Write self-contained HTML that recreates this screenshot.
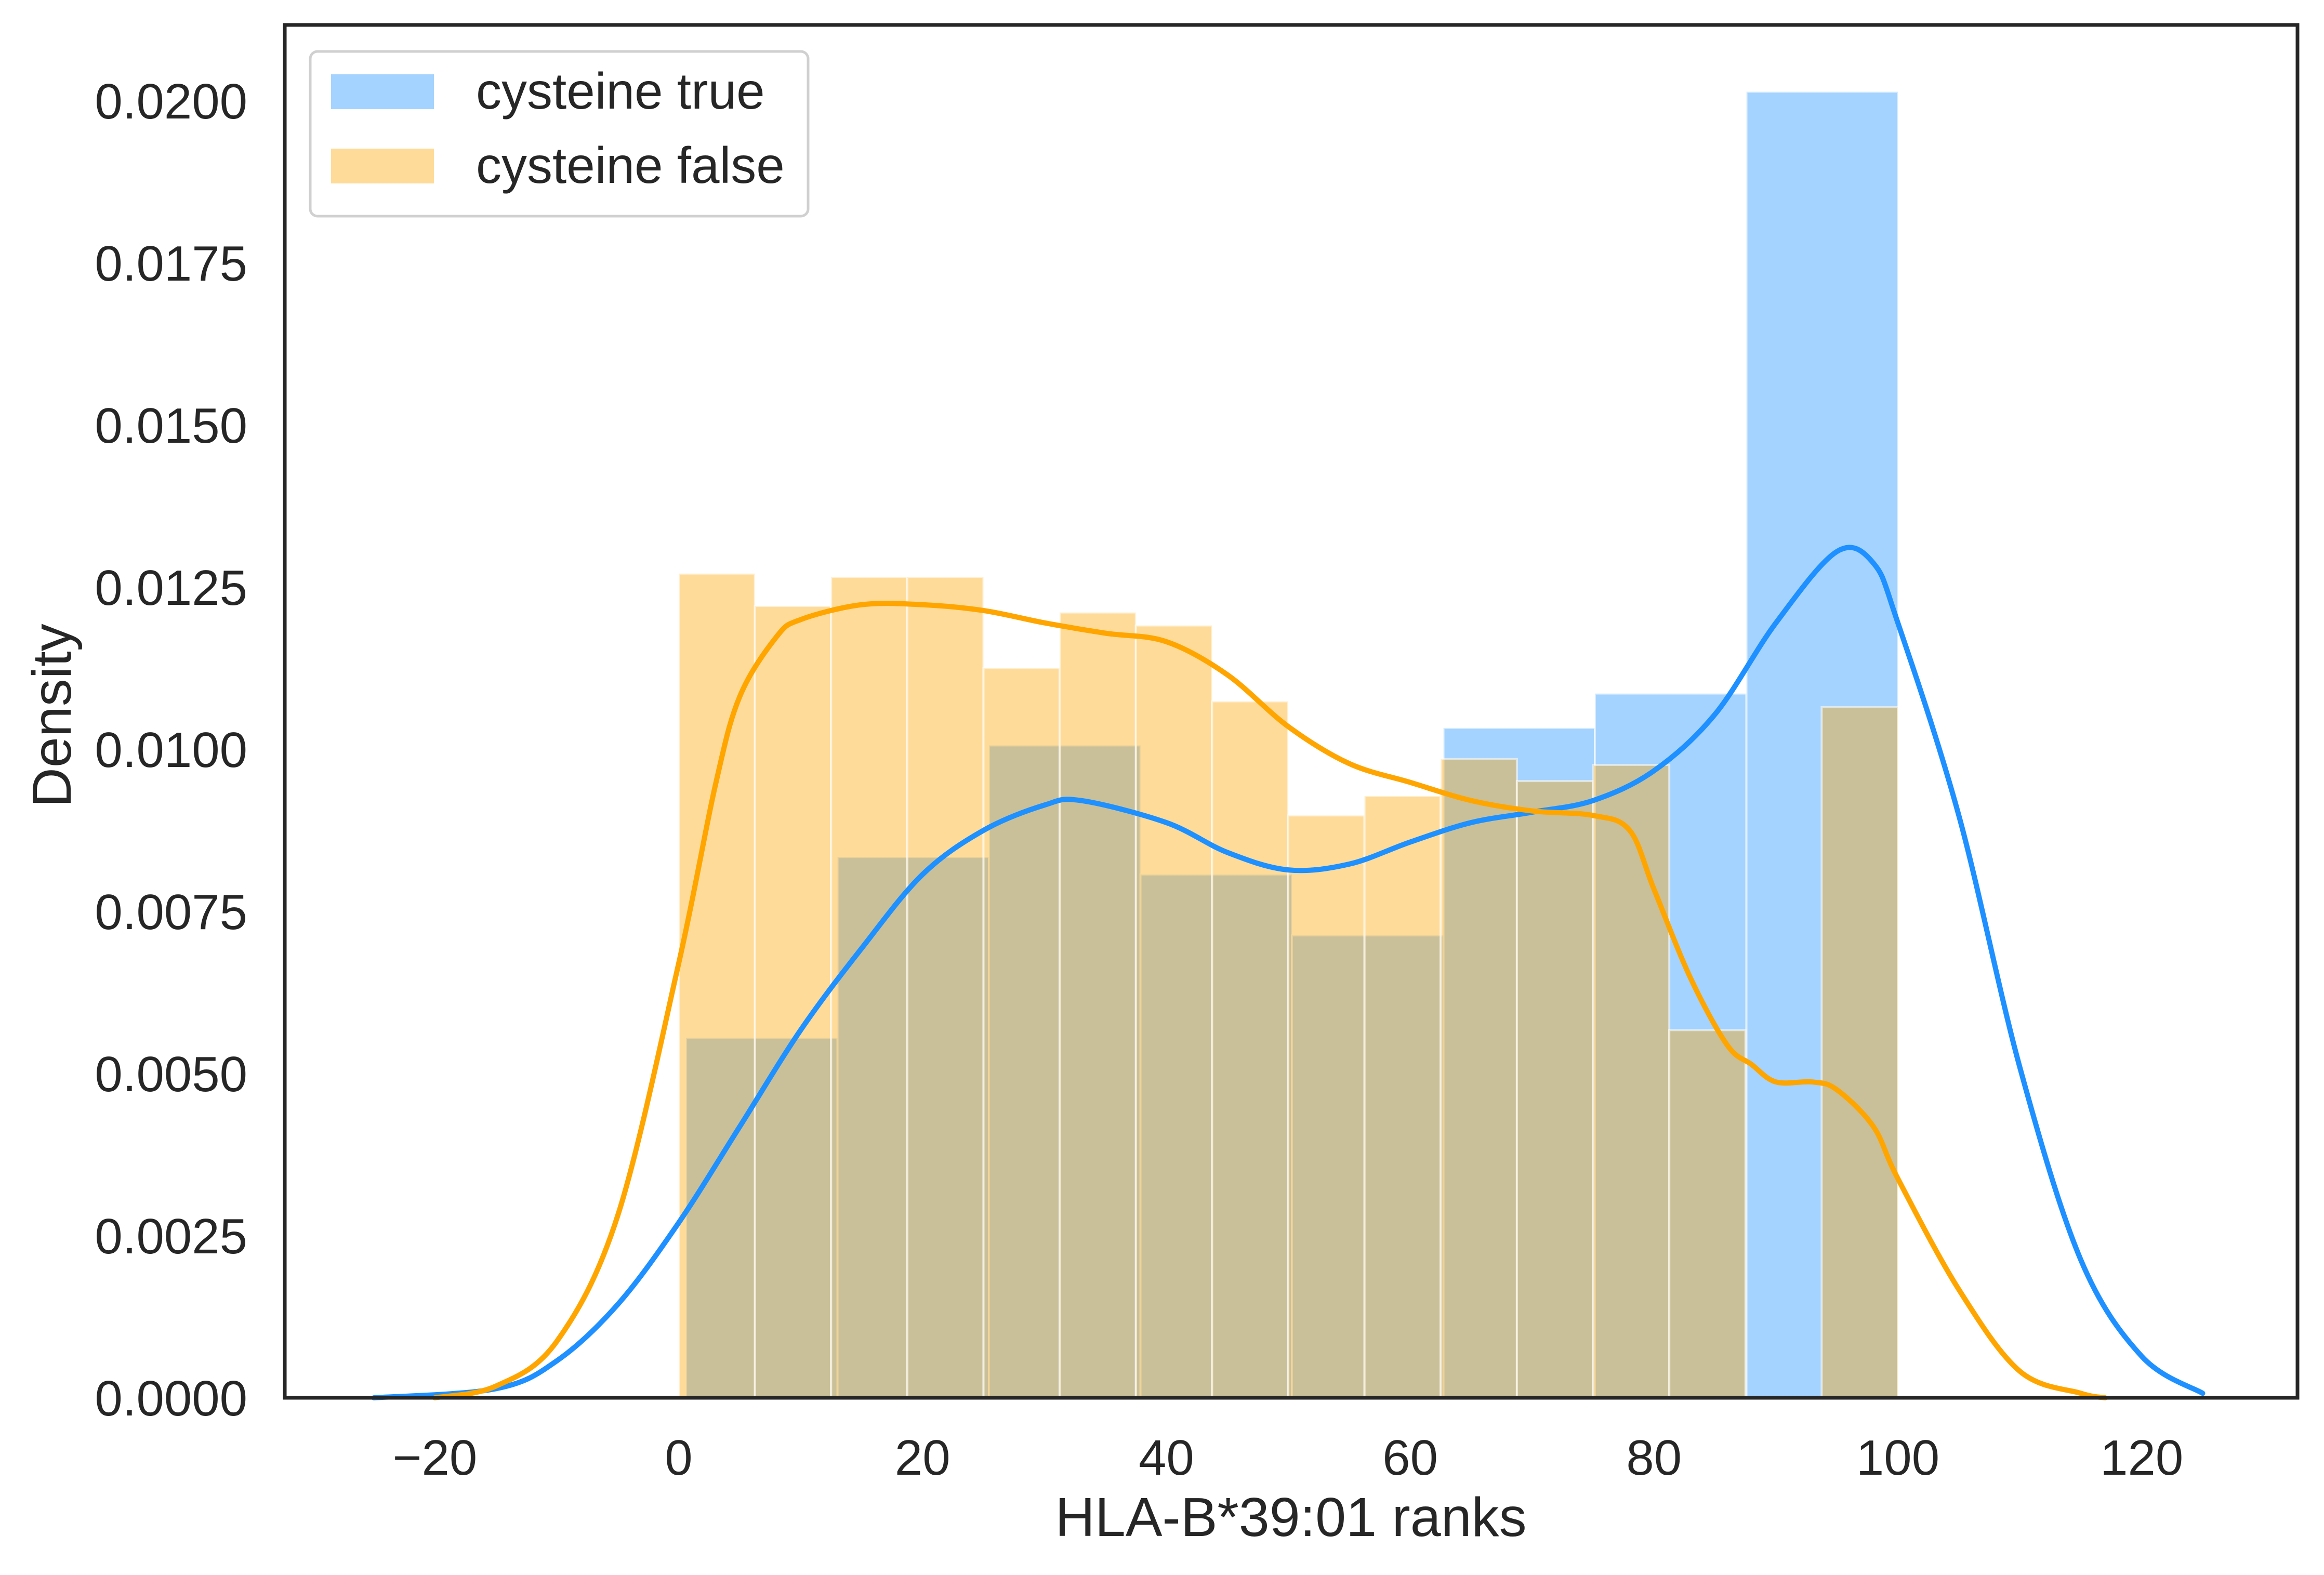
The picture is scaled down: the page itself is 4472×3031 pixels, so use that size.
<!DOCTYPE html>
<html><head><meta charset="utf-8"><style>
html,body{margin:0;padding:0;background:#fff;}
svg text{font-family:"Liberation Sans",sans-serif;fill:#262626;}
</style></head><body>
<svg id="chart" width="4472" height="3026" viewBox="0 0 4472 3026" xmlns="http://www.w3.org/2000/svg">
<g id="bars"></g>
<g id="curves"></g>
<g id="axes"></g>
</svg>
<script>
// Histogram data
const blueEdges=[0.6,13.03,25.45,37.88,50.3,62.73,75.15,87.58,100];
const blueHeights=[0.00555,0.00834,0.01006,0.00807,0.00713,0.01033,0.01086,0.02014];
const orangeEdges=[0,6.25,12.5,18.75,25,31.25,37.5,43.75,50,56.25,62.5,68.75,75,81.25,87.5,93.75,100];
const orangeHeights=[0.01271,0.01221,0.01266,0.01266,0.01125,0.01211,0.01191,0.01074,0.00898,0.00928,0.00985,0.00951,0.00976,0.00567,0,0.01065];
// KDE data
const blueKdeX=[-25,-15,-10,-5,0,5,10,15,20,25,30,33,40,45,50,55,60,65,70,75,80,85,90,95,98,100,105,110,115,120,125];
const blueKdeY=[0,0.00014,0.00057,0.00144,0.0027,0.00418,0.00567,0.00693,0.00807,0.00875,0.00914,0.00921,0.00887,0.00841,0.00814,0.00823,0.00857,0.00887,0.00903,0.00921,0.00967,0.01054,0.01195,0.01305,0.01287,0.01195,0.00898,0.0051,0.00213,0.00064,0.00007];
const orangeKdeX=[-20,-15,-10,-5,0,3,5,8,10,15,20,25,30,35,40,45,50,55,60,65,70,75,78,80,83,86,88,90,93,95,98,100,105,110,115,117];
const orangeKdeY=[0,0.00018,0.00087,0.00281,0.0067,0.00944,0.01081,0.01173,0.012,0.01223,0.01223,0.01214,0.01195,0.01179,0.01166,0.01115,0.01035,0.00978,0.00949,0.00921,0.00905,0.00898,0.00875,0.00784,0.00647,0.00544,0.00514,0.00487,0.00487,0.00475,0.00418,0.00338,0.00167,0.00041,0.00007,0];
const xTicks=[-20,0,20,40,60,80,100,120];
const yTicks=[0,0.0025,0.005,0.0075,0.01,0.0125,0.015,0.0175,0.02];
const yTickLabels=["0.0000","0.0025","0.0050","0.0075","0.0100","0.0125","0.0150","0.0175","0.0200"];

const L=548,R=4421,T=48,B=2690;
const X=v=>1306+23.46*v;
const Y=d=>B-d*124800;
const NS="http://www.w3.org/2000/svg";
function mk(tag,parent,attrs){const e=document.createElementNS(NS,tag);for(const k in attrs)e.setAttribute(k,attrs[k]);parent.appendChild(e);return e;}
const bars=document.getElementById('bars'),curves=document.getElementById('curves'),axes=document.getElementById('axes');

function hist(edges,h,color,name){
  for(let i=0;i<h.length;i++){
    if(h[i]<=0)continue;
    const r=mk('rect',bars,{x:X(edges[i]),y:Y(h[i]),width:X(edges[i+1])-X(edges[i]),height:B-Y(h[i]),fill:color,'fill-opacity':0.4,stroke:'#fff','stroke-opacity':0.55,'stroke-width':4});
    
    
  }
}
hist(blueEdges,blueHeights,'#1e90ff','cysteine-true');
hist(orangeEdges,orangeHeights,'#ffa500','cysteine-false');

function kde(xs,ys,color,name){
  const p=xs.map((x,i)=>[X(x),Y(ys[i])]);
  let d='M'+p[0][0]+','+p[0][1];
  for(let i=0;i<p.length-1;i++){
    const p0=p[Math.max(0,i-1)],p1=p[i],p2=p[i+1],p3=p[Math.min(p.length-1,i+2)];
    const c1=[p1[0]+(p2[0]-p0[0])/6,p1[1]+(p2[1]-p0[1])/6];
    const c2=[p2[0]-(p3[0]-p1[0])/6,p2[1]-(p3[1]-p1[1])/6];
    d+=' C'+c1+' '+c2+' '+p2;
  }
  const e=mk('path',curves,{d:d,fill:'none',stroke:color,'stroke-width':10,'stroke-linejoin':'round','stroke-linecap':'round'});
  
  
}
kde(blueKdeX,blueKdeY,'#1e90ff','cysteine-true');
kde(orangeKdeX,orangeKdeY,'#ffa500','cysteine-false');

const fr=mk('rect',axes,{x:L,y:T,width:R-L,height:B-T,fill:'none',stroke:'#262626','stroke-width':7});



xTicks.forEach(v=>{
  const t=mk('text',axes,{x:X(v),y:2838,'font-size':96,'text-anchor':'middle'});
  t.textContent=(v<0?'\u2212'+(-v):String(v));
  
  
});
yTicks.forEach((v,i)=>{
  const t=mk('text',axes,{x:476,y:Y(v)+34,'font-size':96,'text-anchor':'end'});
  t.textContent=yTickLabels[i];
  
  
});
const xl=mk('text',axes,{x:2484,y:2956,'font-size':106,'text-anchor':'middle'});
xl.textContent='HLA-B*39:01 ranks';


const yl=mk('text',axes,{x:0,y:0,'font-size':106,'text-anchor':'middle',transform:'translate(136,1377) rotate(-90)'});
yl.textContent='Density';



const lg=mk('g',axes,{});


mk('rect',lg,{x:597,y:99,width:958,height:317,rx:14,fill:'#fff','fill-opacity':0.8,stroke:'#d0d0d0','stroke-width':5});
const items=[['cysteine true','#1e90ff',143],['cysteine false','#ffa500',286]];
items.forEach(([lab,c,y])=>{
  const g=mk('g',lg,{});
  
  
  mk('rect',g,{x:637,y:y,width:198,height:67,fill:c,'fill-opacity':0.4});
  const t=mk('text',g,{x:916,y:y+66,'font-size':98});
  t.textContent=lab;
});
</script>
</body></html>
